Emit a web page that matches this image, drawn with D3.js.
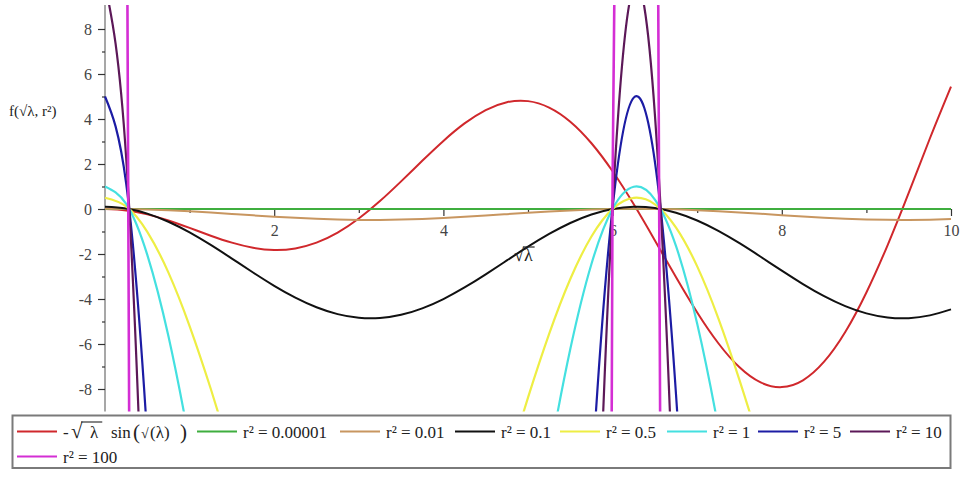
<!DOCTYPE html>
<html><head><meta charset="utf-8">
<script src="https://cdn.jsdelivr.net/npm/d3@7"></script>
<style>
body{margin:0;background:#fff;}
svg{display:block;}
text{font-family:"Liberation Serif","Times New Roman",serif;}
</style></head><body>
<svg id="chart" width="967" height="479"></svg>
<script>
// ---- data ----
const xGrid = [0,0.25,0.5,0.75,1,1.25,1.5,1.75,2,2.25,2.5,2.75,3,3.25,3.5,3.75,4,4.25,4.5,4.75,5,5.25,5.5,5.75,6,6.25,6.5,6.75,7,7.25,7.5,7.75,8,8.25,8.5,8.75,9,9.25,9.5,9.75,10];

const redValues = [0,-0.0619,-0.2397,-0.5112,-0.8415,-1.1863,-1.4962,-1.722,-1.8186,-1.7507,-1.4962,-1.0497,-0.4234,0.3517,1.2278,2.1435,3.0272,3.8038,4.3988,4.7467,4.7946,4.5092,3.8803,2.9227,1.6764,0.2075,-1.3982,-3.0375,-4.599,-5.9675,-7.035,-7.7082,-7.9152,-7.6131,-6.7873,-5.4679,-3.7091,-1.6123,0.7144,3.1337,5.4402];

const greenValues = [0.00001,0,-0.00002,-0.00006,-0.0001,-0.00016,-0.00022,-0.00028,-0.00034,-0.00039,-0.00044,-0.00047,-0.00048,-0.00048,-0.00047,-0.00044,-0.0004,-0.00035,-0.00029,-0.00023,-0.00017,-0.00011,-0.00006,-0.00002,0,0.00001,0,-0.00002,-0.00005,-0.0001,-0.00015,-0.00021,-0.00027,-0.00033,-0.00039,-0.00043,-0.00046,-0.00048,-0.00049,-0.00047,-0.00045];

const brownValues = [0.01,0.0023,-0.0204,-0.0565,-0.104,-0.1598,-0.2205,-0.2822,-0.3412,-0.3938,-0.4367,-0.4672,-0.4835,-0.4845,-0.4703,-0.4415,-0.4001,-0.3486,-0.2903,-0.2287,-0.1676,-0.111,-0.0622,-0.0244,0.0001,0.0099,0.0042,-0.0165,-0.051,-0.0972,-0.152,-0.2123,-0.2741,-0.3336,-0.3873,-0.4316,-0.464,-0.4822,-0.4853,-0.4728,-0.4461];

const blackValues = [0.1,0.0229,-0.2036,-0.5654,-1.0401,-1.5981,-2.2047,-2.8219,-3.4119,-3.9379,-4.3667,-4.6723,-4.8352,-4.8454,-4.7025,-4.4151,-4.0009,-3.4863,-2.9028,-2.2868,-1.6764,-1.11,-0.6224,-0.2442,0.0013,0.099,0.042,-0.1654,-0.5103,-0.9716,-1.5204,-2.1226,-2.7408,-3.3355,-3.873,-4.3161,-4.6395,-4.8221,-4.8531,-4.7283,-4.461];

const yellowValues = [0.5,0.1144,-1.0178,-2.8269,-5.2003,-7.9903,-11.0233,-14.1097,-17.0597,-19.6897,-21.8337,-23.3613,-24.176,-24.2269,-23.5126,-22.0755,-20.0047,-17.4317,-14.5139,-11.4338,-8.3821,-5.55,-3.1121,-1.2211,0.0065,0.495,0.2099,-0.8268,-2.5517,-4.8581,-7.6022,-10.6129,-13.7042,-16.6777,-19.3648,-21.5807,-23.1977,-24.1103,-24.2653,-23.6416,-22.3049];

const cyanValues = [1,0.2287,-2.0355,-5.6538,-10.4006,-15.9806,-22.0466,-28.2194,-34.1193,-39.3794,-43.6673,-46.7226,-48.352,-48.4537,-47.0252,-44.1509,-40.0093,-34.8633,-29.0278,-22.8675,-16.7642,-11.0999,-6.2242,-2.4422,0.013,0.99,0.4197,-1.6536,-5.1033,-9.7161,-15.2043,-21.2258,-27.4084,-33.3554,-38.7296,-43.1614,-46.3953,-48.2206,-48.5306,-47.2831,-44.6097];

const blueValues = [5,1.1435,-10.1775,-28.269,-52.003,-79.903,-110.233,-141.097,-170.597,-196.897,-218.337,-233.613,-241.76,-242.269,-235.126,-220.755,-200.047,-174.317,-145.139,-114.338,-83.821,-55.5,-31.121,-12.211,0.065,4.95,2.099,-8.268,-25.517,-48.581,-76.022,-106.129,-137.042,-166.777,-193.648,-215.807,-231.977,-241.103,-242.653,-236.416,-223.049];

const purpleValues = [10,2.287,-20.355,-56.538,-104.006,-159.806,-220.466,-282.194,-341.193,-393.794,-436.673,-467.226,-483.52,-484.537,-470.252,-441.509,-400.093,-348.633,-290.278,-228.675,-167.642,-110.999,-62.242,-24.422,0.13,9.9,4.197,-16.536,-51.033,-97.161,-152.043,-212.258,-274.084,-333.554,-387.296,-431.614,-463.953,-482.206,-485.306,-472.831,-446.097];

const magentaValues = [100,22.87,-203.55,-565.38,-1040.06,-1598.06,-2204.66,-2821.94,-3411.93,-3937.94,-4366.73,-4672.26,-4835.2,-4845.37,-4702.52,-4415.09,-4000.93,-3486.33,-2902.78,-2286.75,-1676.42,-1109.99,-622.42,-244.22,1.3,99,41.97,-165.36,-510.33,-971.61,-1520.43,-2122.58,-2740.84,-3335.54,-3872.96,-4316.14,-4639.53,-4822.06,-4853.06,-4728.31,-4460.97];

const seriesLabels = ["RED_LABEL","r\u00B2 = 0.00001","r\u00B2 = 0.01","r\u00B2 = 0.1","r\u00B2 = 0.5","r\u00B2 = 1","r\u00B2 = 5","r\u00B2 = 10","r\u00B2 = 100"];
const xMajorTicks = [2,4,6,8,10];
const xMinorTicks = [1,3,5,7,9];
const yMajorTicks = [-8,-6,-4,-2,0,2,4,6,8];
const yMinorTicks = [-7,-5,-3,-1,1,3,5,7];

// ---- styles / layout (kept apart from data) ----
const allValues = [redValues,greenValues,brownValues,blackValues,yellowValues,cyanValues,blueValues,purpleValues,magentaValues];
const colors = ["#d0282c","#3fae3f","#c89660","#111111","#eeee44","#44e0e0","#1c1ca4","#5c1858","#d42ed4"];
const widths = [2,2.2,2,2,2.2,2.2,2.2,2.2,2.6];

const svg = d3.select("#chart");
const x = d3.scaleLinear().domain([0,10]).range([105,951]);
const y = d3.scaleLinear().domain([-9,9]).range([411.5,6.5]);

svg.append("defs").append("clipPath").attr("id","plotclip")
  .append("rect").attr("x",104).attr("y",5).attr("width",849).attr("height",406.5);

// axes
const axisColor = "#8a8a8a";
svg.append("line").attr("x1",x(0)).attr("x2",x(0)).attr("y1",5).attr("y2",411.5)
  .attr("stroke",axisColor).attr("stroke-width",1.5);
svg.append("line").attr("x1",x(0)).attr("x2",x(10)).attr("y1",y(0)).attr("y2",y(0))
  .attr("stroke","#333").attr("stroke-width",1.5);

function styleAxis(g){
  g.select(".domain").remove();
  g.selectAll(".tick line").attr("stroke","#333").attr("stroke-width",1.2);
  g.selectAll(".tick text").attr("fill","#444").style("font-size","16px")
    .style("font-family","'Liberation Serif','Times New Roman',serif");
}
svg.append("g").attr("transform",`translate(0,${y(0)})`)
  .call(d3.axisBottom(x).tickValues(xMajorTicks).tickSize(7).tickPadding(9).tickFormat(d3.format("d")))
  .call(styleAxis);
svg.append("g").attr("transform",`translate(0,${y(0)})`)
  .call(d3.axisBottom(x).tickValues(xMinorTicks).tickSize(4).tickFormat(""))
  .call(styleAxis);
svg.append("g").attr("transform",`translate(${x(0)},0)`)
  .call(d3.axisLeft(y).tickValues(yMajorTicks).tickSize(7).tickPadding(6).tickFormat(d=>d<0?"-"+Math.abs(d):String(d)))
  .call(styleAxis);
svg.append("g").attr("transform",`translate(${x(0)},0)`)
  .call(d3.axisLeft(y).tickValues(yMinorTicks).tickSize(3).tickFormat(""))
  .call(styleAxis);

// curves
const line = d3.line().x(d=>x(d[0])).y(d=>y(d[1])).curve(d3.curveNatural);
const plot = svg.append("g").attr("clip-path","url(#plotclip)");
allValues.forEach((vals,i)=>{
  const pts = xGrid.map((xv,j)=>[xv,vals[j]]);
  plot.append("path").datum(pts).attr("d",line)
    .attr("fill","none").attr("stroke",colors[i]).attr("stroke-width",widths[i])
    .attr("stroke-linejoin","round");
});

// axis labels
const ylab = svg.append("text").attr("x",9).attr("y",116).attr("fill","#222").style("font-size","15px");
ylab.append("tspan").text("f(\u221A\u03BB, r\u00B2)");

const xlab = svg.append("text").attr("x",514).attr("y",261).attr("fill","#222").style("font-size","18px");
xlab.append("tspan").text("\u221A");
xlab.append("tspan").text("\u03BB");
{
  const n = xlab.node();
  const e = n.getExtentOfChar(1);
  const s = n.getExtentOfChar(0);
  svg.append("line").attr("x1",s.x+s.width-1).attr("x2",e.x+e.width+2)
    .attr("y1",s.y+2).attr("y2",s.y+2).attr("stroke","#222").attr("stroke-width",1.2);
}

// legend
svg.append("rect").attr("x",12.5).attr("y",415.5).attr("width",938).attr("height",52.5)
  .attr("fill","#fff").attr("stroke","#7a7a7a").attr("stroke-width",2);
const legendPos = [[17,431.5],[197,431.5],[340,431.5],[455,431.5],[560,431.5],[667,431.5],[758,431.5],[850,431.5],[17,456.5]];
const lg = svg.append("g");
seriesLabels.forEach((lab,i)=>{
  const [lx,ly] = legendPos[i];
  lg.append("line").attr("x1",lx).attr("x2",lx+40).attr("y1",ly).attr("y2",ly)
    .attr("stroke",colors[i]).attr("stroke-width",2);
  const t = lg.append("text").attr("x",lx+46).attr("y",ly+6.5).attr("fill","#222").style("font-size","17px");
  if(lab==="RED_LABEL"){
    const by = ly+6.5;
    t.append("tspan").attr("x",63).attr("y",by).text("-");
    t.append("tspan").attr("x",71).attr("y",by).style("font-size","21px").text("\u221A");
    t.append("tspan").attr("x",90).attr("y",by).text("\u03BB");
    t.append("tspan").attr("x",111).attr("y",by).text("sin");
    t.append("tspan").attr("x",133).attr("y",by+1).style("font-size","21px").text("(");
    t.append("tspan").attr("x",141).attr("y",by).style("font-size","14px").text("\u221A");
    t.append("tspan").attr("x",150).attr("y",by).text("(\u03BB)");
    t.append("tspan").attr("x",180).attr("y",by+1).style("font-size","21px").text(")");
    const n = t.node();
    const r = n.getExtentOfChar(1);
    const l = n.getExtentOfChar(2);
    lg.append("line").attr("x1",r.x+r.width-1.5).attr("x2",l.x+l.width+4)
      .attr("y1",r.y+3).attr("y2",r.y+3).attr("stroke","#222").attr("stroke-width",1.1);
  } else {
    t.text(lab);
  }
});
</script>
</body></html>
